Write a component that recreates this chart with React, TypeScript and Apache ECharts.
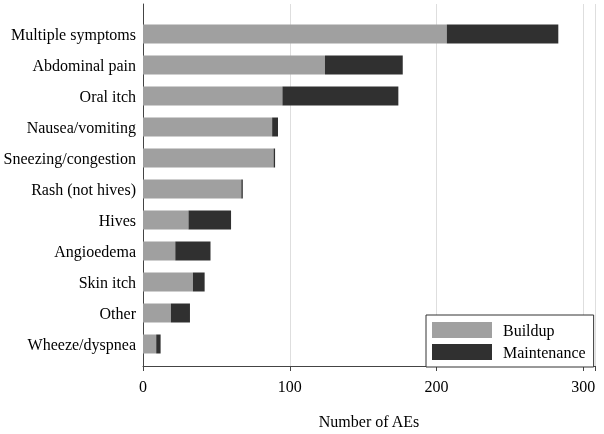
import React, { useEffect, useRef } from "react";
import * as echarts from "echarts";

const categories = [
  "Multiple symptoms",
  "Abdominal pain",
  "Oral itch",
  "Nausea/vomiting",
  "Sneezing/congestion",
  "Rash (not hives)",
  "Hives",
  "Angioedema",
  "Skin itch",
  "Other",
  "Wheeze/dyspnea",
];
const buildup = [207, 124, 95, 88, 89, 67, 31, 22, 34, 19, 9];
const maintenance = [76, 53, 79, 4, 1, 1, 29, 24, 8, 13, 3];
const xTicks = [0, 100, 200, 300];

const FONT = "Liberation Serif";

export default function App() {
  const ref = useRef<HTMLDivElement>(null);
  useEffect(() => {
    if (!ref.current) return;
    const chart = echarts.init(ref.current, undefined, { renderer: "svg" });
    const left = 143;
    const right = 9;
    chart.setOption({
      animation: false,
      grid: [
        { left, right, top: 4, bottom: 61 },
        { left, right, top: 18.5, height: 341 },
      ],
      xAxis: [
        {
          gridIndex: 0,
          type: "value",
          min: xTicks[0],
          max: 308,
          interval: 100,
          axisLine: { show: true, lineStyle: { color: "#444", width: 1 } },
          axisTick: { show: true, length: 5, lineStyle: { color: "#444" } },
          axisLabel: {
            fontSize: 16,
            fontFamily: FONT,
            color: "#000",
            margin: 12,
            formatter: (v: number) => (xTicks.includes(v) ? String(v) : ""),
          },
          splitLine: { show: true, lineStyle: { color: "#dedede", width: 1 } },
          name: "Number of AEs",
          nameLocation: "middle",
          nameGap: 47,
          nameTextStyle: { fontSize: 16, fontFamily: FONT, color: "#000" },
        },
        {
          gridIndex: 1,
          type: "value",
          min: 0,
          max: 308,
          show: false,
        },
      ],
      yAxis: [
        {
          gridIndex: 0,
          type: "value",
          min: 0,
          max: 1,
          axisLine: { show: true, lineStyle: { color: "#444", width: 1 } },
          axisTick: { show: false },
          axisLabel: { show: false },
          splitLine: { show: false },
        },
        {
          gridIndex: 1,
          type: "category",
          data: categories,
          inverse: true,
          axisLine: { show: false },
          axisTick: { show: false },
          splitLine: { show: false },
          axisLabel: { fontSize: 16, fontFamily: FONT, color: "#000", margin: 7 },
        },
      ],
      legend: {
        orient: "vertical",
        left: 426,
        top: 315,
        padding: [7, 8, 7, 6],
        itemGap: 6,
        itemWidth: 60,
        itemHeight: 16,
        borderColor: "#333",
        borderWidth: 1,
        backgroundColor: "#fff",
        textStyle: {
          fontSize: 16,
          fontFamily: FONT,
          color: "#000",
          padding: [0, 0, 0, 6],
        },
        data: [
          { name: "Buildup", icon: "rect" },
          { name: "Maintenance", icon: "rect" },
        ],
      },
      series: [
        {
          name: "Buildup",
          type: "bar",
          stack: "total",
          xAxisIndex: 1,
          yAxisIndex: 1,
          barWidth: 19,
          data: buildup,
          itemStyle: { color: "#a0a0a0" },
        },
        {
          name: "Maintenance",
          type: "bar",
          stack: "total",
          xAxisIndex: 1,
          yAxisIndex: 1,
          barWidth: 19,
          data: maintenance,
          itemStyle: { color: "#303030" },
        },
      ],
    });
    return () => chart.dispose();
  }, []);
  return (
    <div
      ref={ref}
      style={{ position: "fixed", left: 0, top: 0, width: 604, height: 434 }}
    />
  );
}
